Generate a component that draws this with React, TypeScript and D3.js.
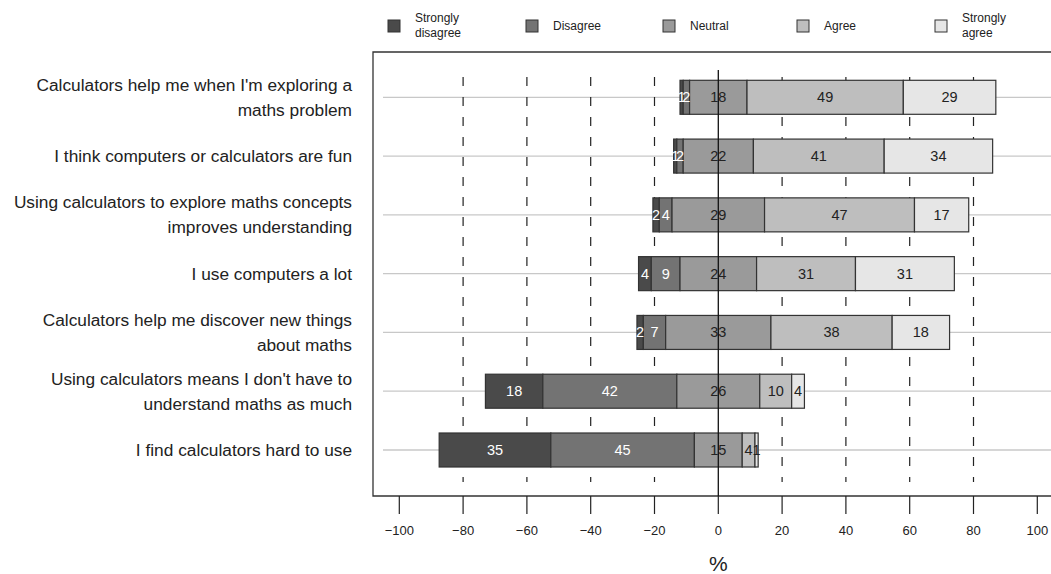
import React from "react";
import * as d3 from "d3";

const questions: string[][] = [
  ["Calculators help me when I'm exploring a", "maths problem"],
  ["I think computers or calculators are fun"],
  ["Using calculators to explore maths concepts", "improves understanding"],
  ["I use computers a lot"],
  ["Calculators help me discover new things", "about maths"],
  ["Using calculators means I don't have to", "understand maths as much"],
  ["I find calculators hard to use"],
];

const stronglyDisagree = [1, 1, 2, 4, 2, 18, 35];
const disagree = [2, 2, 4, 9, 7, 42, 45];
const neutral = [18, 22, 29, 24, 33, 26, 15];
const agree = [49, 41, 47, 31, 38, 10, 4];
const stronglyAgree = [29, 34, 17, 31, 18, 4, 1];

const categories = ["Strongly disagree", "Disagree", "Neutral", "Agree", "Strongly agree"];
const legendLines: string[][] = [["Strongly", "disagree"], ["Disagree"], ["Neutral"], ["Agree"], ["Strongly", "agree"]];
const colors = ["#4a4a4a", "#737373", "#9a9a9a", "#bebebe", "#e6e6e6"];
const textColors = ["#ffffff", "#ffffff", "#222222", "#222222", "#222222"];
const ticks = [-100, -80, -60, -40, -20, 0, 20, 40, 60, 80, 100];
const gridVals = [-80, -60, -40, -20, 20, 40, 60, 80];

const FONT = "'Liberation Sans', Arial, Helvetica, sans-serif";

export default function App() {
  const W = 1051, H = 574;
  const x = d3.scaleLinear().domain([-100, 100]).range([399.3, 1037.3]);
  const y = d3.scalePoint<number>().domain(questions.map((_, i) => i)).range([97.3, 450]);
  const barH = 34;
  const boxL = 373, boxT = 52, boxB = 496, boxR = 1060;

  const series = [stronglyDisagree, disagree, neutral, agree, stronglyAgree];

  const rows = questions.map((q, i) => {
    const vals = series.map((s) => s[i]);
    const start = -(vals[0] + vals[1] + vals[2] / 2);
    let acc = start;
    const segs = vals.map((v, k) => {
      const s = { x0: acc, x1: acc + v, v, k };
      acc += v;
      return s;
    });
    return { q, segs, start, end: acc };
  });

  const legendSq = [388, 526, 663, 797, 935];

  return (
    <svg width={W} height={H} style={{ position: "absolute", left: 0, top: 0, background: "#fff" }} fontFamily={FONT}>
      {/* legend */}
      {categories.map((c, k) => (
        <g key={c}>
          <rect x={legendSq[k]} y={20} width={12} height={12} fill={colors[k]} stroke="#333" strokeWidth={1} />
          {legendLines[k].map((t, j) => (
            <text key={j} x={legendSq[k] + 27} y={legendLines[k].length === 1 ? 30 : 22 + j * 15} fontSize={12} fill="#222">
              {t}
            </text>
          ))}
        </g>
      ))}

      {/* box */}
      <path d={`M${boxR},${boxT} H${boxL} V${boxB} H${boxR}`} fill="none" stroke="#333" strokeWidth={1.3} />

      {/* horizontal row lines */}
      {rows.map((r, i) => (
        <line key={i} x1={383} x2={W} y1={y(i)} y2={y(i)} stroke="#c8c8c8" strokeWidth={1.3} />
      ))}

      {/* dashed grid */}
      {gridVals.map((g) => (
        <line key={g} x1={x(g)} x2={x(g)} y1={77} y2={482} stroke="#222" strokeWidth={1.2} strokeDasharray="9,11" />
      ))}

      {/* bars */}
      {rows.map((r, i) => (
        <g key={i}>
          {r.segs.map((s) => (
            <rect
              key={s.k}
              x={x(s.x0)}
              y={(y(i) as number) - barH / 2}
              width={x(s.x1) - x(s.x0)}
              height={barH}
              fill={colors[s.k]}
              stroke="#333"
              strokeWidth={1.2}
            />
          ))}
          {r.segs.map((s) => (
            <text
              key={"t" + s.k}
              x={(x(s.x0) + x(s.x1)) / 2}
              y={(y(i) as number) + 5}
              textAnchor="middle"
              fontSize={14.5}
              fill={textColors[s.k]}
            >
              {s.v}
            </text>
          ))}
        </g>
      ))}

      {/* zero line */}
      <line x1={x(0)} x2={x(0)} y1={70} y2={boxB} stroke="#111" strokeWidth={1.3} />

      {/* question labels */}
      {rows.map((r, i) => (
        <text key={i} textAnchor="end" fontSize={17.3} fill="#222">
          {r.q.map((t, j) => (
            <tspan key={j} x={352} y={(y(i) as number) + 6 + (j - (r.q.length - 1) / 2) * 25}>
              {t}
            </tspan>
          ))}
        </text>
      ))}

      {/* x axis */}
      {ticks.map((t) => (
        <g key={t}>
          <line x1={x(t)} x2={x(t)} y1={boxB} y2={boxB + 18} stroke="#222" strokeWidth={1.2} />
          <text x={x(t)} y={535} textAnchor="middle" fontSize={13} fill="#222">
            {t < 0 ? "\u2212" + Math.abs(t) : String(t)}
          </text>
        </g>
      ))}
      <text x={x(0)} y={571} textAnchor="middle" fontSize={21} fill="#222">%</text>
    </svg>
  );
}
